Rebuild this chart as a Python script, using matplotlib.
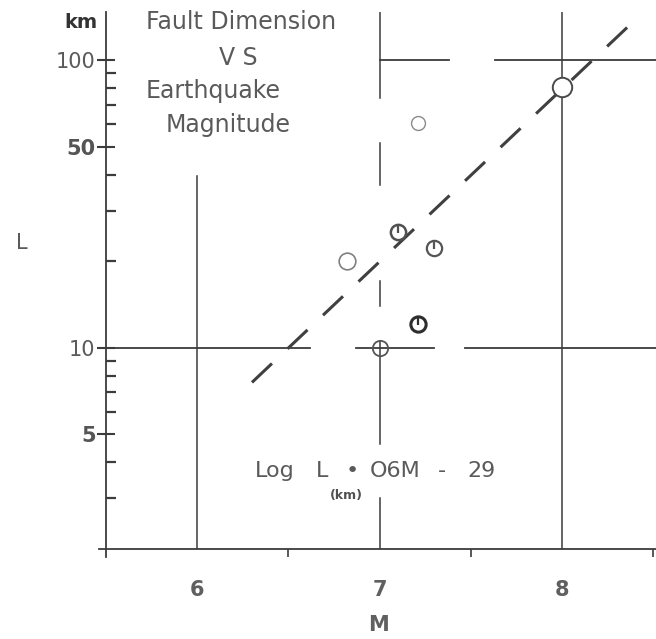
import numpy as np
import matplotlib.pyplot as plt
from matplotlib.ticker import NullFormatter

# Earthquake magnitude M vs fault length L (km)
mag = [7.0, 7.21, 6.82, 7.1, 7.3, 7.21, 8.0]
length_km = [10.0, 12.1, 20.0, 25.2, 22.3, 60.5, 80.5]

# empirical fit: log L = 0.6 M - 2.9
fit_slope = 0.6
fit_icpt = -2.9
fit_range = (6.3, 8.38)

y_major = [5, 10, 50, 100]
y_major_labels = ['5', '10', '50', '100']
y_minor = [3, 4, 6, 7, 8, 9, 20, 30, 40, 60, 70, 80, 90]
x_major = [6, 7, 8]
x_minor = [6.5, 7.5, 8.5]

# hand-drawn grid, broken where the draughtsman left gaps
grid_v = {6: [(2, 39.7)],
          7: [(73.8, 147), (36.7, 51.4), (14.0, 17.1), (4.63, 10.6), (2, 3.0)],
          8: [(2, 147)]}
grid_h = {10: [(5.5, 6.62), (6.87, 7.3), (7.47, 8.55)],
          100: [(7.0, 7.38), (7.63, 8.55)]}

ink = '#3c3c3c'
pencil = '#5a5a5a'

fig = plt.figure(figsize=(6.56, 6.39), dpi=100)
ax = fig.add_axes([106 / 656, 1 - 549 / 639, 1 - 106 / 656 + 0.01, (549 - 12) / 639])
ax.set_yscale('log')
ax.set_xlim(5.5, 8.55)
ax.set_ylim(2, 147)

for x, segs in grid_v.items():
    for lo, hi in segs:
        ax.plot([x, x], [lo, hi], color=ink, lw=1.1, zorder=1)
for y, segs in grid_h.items():
    for lo, hi in segs:
        ax.plot([lo, hi], [y, y], color=ink, lw=1.3, zorder=1)

# fit line
m = np.array(fit_range)
ax.plot(m, 10 ** (fit_slope * m + fit_icpt), color='#404040', lw=2.2,
        dashes=(9, 7), solid_capstyle='butt', zorder=2)

# data points
edge = ['#555555', '#2e2e2e', '#808080', '#505050', '#555555', '#8a8a8a', '#4a4a4a']
face = ['none', 'white', 'white', 'white', 'white', 'white', 'white']
size = [11, 11, 12, 11, 11, 10, 14]
ew = [1.3, 2.2, 1.2, 1.8, 1.6, 1.0, 1.4]
for i in range(len(mag)):
    ax.plot(mag[i], length_km[i], 'o', ms=size[i], mfc=face[i], mec=edge[i],
            mew=ew[i], zorder=3)
# small stems drawn inside some circles
for i in [1, 3, 4]:
    ax.plot(mag[i], length_km[i] * 1.025, '|', ms=6, mew=1.6, color=edge[i], zorder=4)

# axes
for s in ['top', 'right']:
    ax.spines[s].set_visible(False)
for s in ['left', 'bottom']:
    ax.spines[s].set_color(ink)
    ax.spines[s].set_linewidth(1.3)
ax.plot([5.5, 5.5], [2, 1.88], color=ink, lw=1.3, clip_on=False)
ax.plot([5.46, 5.5], [2, 2], color=ink, lw=1.3, clip_on=False)

ax.set_yticks(y_major)
ax.set_yticklabels(y_major_labels)
ax.set_yticks(y_minor, minor=True)
ax.yaxis.set_minor_formatter(NullFormatter())
ax.tick_params(axis='y', which='major', direction='inout', length=13, width=1.5,
               color=ink, labelsize=15, labelcolor=pencil, pad=1)
ax.tick_params(axis='y', which='minor', direction='in', length=7, width=1.6, color=ink)
for lab in ax.get_yticklabels():
    if lab.get_text() in ('5', '50'):
        lab.set_fontweight('bold')
        lab.set_color('#555555')

ax.set_xticks(x_major)
ax.set_xticks(x_minor, minor=True)
ax.xaxis.set_minor_formatter(NullFormatter())
ax.tick_params(axis='x', which='major', length=0, labelsize=15, labelcolor='#606060', pad=22)
ax.tick_params(axis='x', which='minor', direction='out', length=6, width=1.2, color=ink)
for lab in ax.get_xticklabels():
    lab.set_fontweight('bold')


def px(x, y):
    return x / 656, 1 - y / 639


fig.text(*px(378, 625), 'M', fontsize=15, color='#606060', weight='bold', ha='center', va='center')
fig.text(*px(22, 243), 'L', fontsize=15, color=pencil, ha='center', va='center')
fig.text(*px(98, 22), 'km', fontsize=14, color='#333333', weight='bold', ha='right', va='center')

title_kw = dict(fontsize=17, color=pencil, va='center')
fig.text(*px(146, 22), 'Fault Dimension', ha='left', **title_kw)
fig.text(*px(238, 58), 'V S', ha='center', **title_kw)
fig.text(*px(146, 91), 'Earthquake', ha='left', **title_kw)
fig.text(*px(166, 125), 'Magnitude', ha='left', **title_kw)

# equation, lettered with wide spacing
eq_kw = dict(fontsize=16, color=pencil, va='center', ha='left')
fig.text(*px(255, 471), 'Log', **eq_kw)
fig.text(*px(316, 471), 'L', **eq_kw)
fig.text(*px(346, 471), '•', **eq_kw)
fig.text(*px(370, 471), 'O6M', **eq_kw)
fig.text(*px(438, 471), '-', **eq_kw)
fig.text(*px(467, 471), '29', **eq_kw)
fig.text(*px(346, 495), '(km)', fontsize=9, color='#505050', weight='bold',
         ha='center', va='center')

fig.savefig('out.png', dpi=100)
